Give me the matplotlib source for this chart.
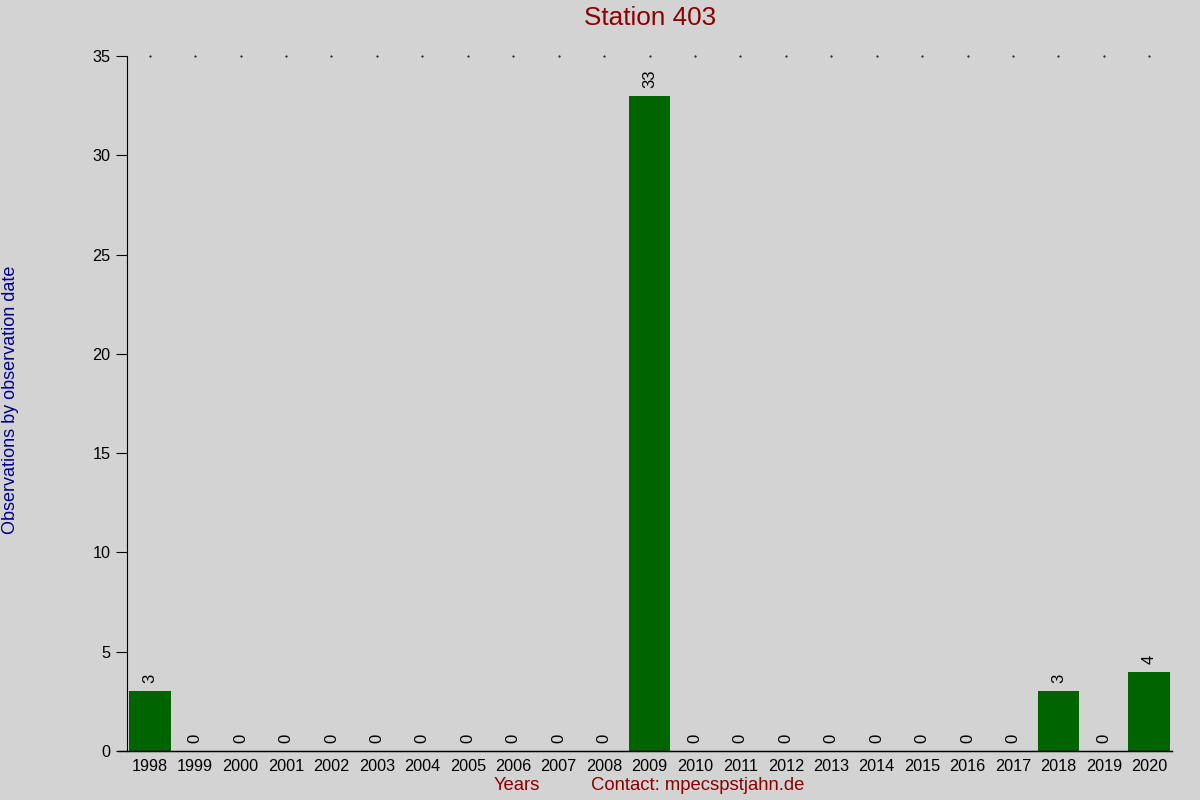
import numpy as np
import matplotlib
matplotlib.use('Agg')
import matplotlib.pyplot as plt

plt.rcParams['font.family'] = ['Liberation Sans', 'DejaVu Sans']

years = [str(y) for y in range(1998, 2021)]
counts = [3, 0, 0, 0, 0, 0, 0, 0, 0, 0, 0, 33, 0, 0, 0, 0, 0, 0, 0, 0, 3, 0, 4]
yticks = [0, 5, 10, 15, 20, 25, 30, 35]

bg = '#d3d3d3'
fig = plt.figure(figsize=(12, 8), dpi=100, facecolor=bg)
ax = fig.add_axes([127/1200, 49/800, 1045/1200, 695/800], facecolor=bg)

x = np.arange(len(years))
ax.bar(x, counts, width=0.92, color='#006400')
for i, c in enumerate(counts):
    ax.text(i, c + 0.4, str(c), rotation=90, ha='center', va='bottom', fontsize=12)

# little dots along the top
ax.scatter(x, [35]*len(x), s=0.25, color='black', clip_on=False)

ax.set_xlim(-0.5, len(years) - 0.5)
ax.set_ylim(0, 35)
ax.set_xticks(x)
ax.set_xticklabels(years, fontsize=11.7)
ax.tick_params(axis='x', length=0, pad=6)
ax.set_yticks(yticks)
ax.tick_params(axis='y', length=8, labelsize=11.7, pad=4)
ax.spines['top'].set_visible(False)
ax.spines['right'].set_visible(False)
ax.spines['left'].set_bounds(0, 35)

# x axis line extending to the left like the 0 tick
ax.plot([-0.7, len(years) - 0.5], [0, 0], color='black', lw=1, clip_on=False)

fig.text(650/1200, 1 - 18/800, 'Station 403', color='#8b0000', fontsize=18.8, ha='center', va='center')
fig.text(11/1200, 0.5, 'Observations by observation date', color='#00008b', fontsize=13,
         rotation=90, ha='center', va='center')
fig.text(517/1200, 1 - 786/800, 'Years', color='#8b0000', fontsize=13.3, ha='center', va='center')
fig.text(698/1200, 1 - 786/800, 'Contact: mpecspstjahn.de', color='#8b0000', fontsize=13.3,
         ha='center', va='center')

fig.savefig('out.png', dpi=100, facecolor=bg)
